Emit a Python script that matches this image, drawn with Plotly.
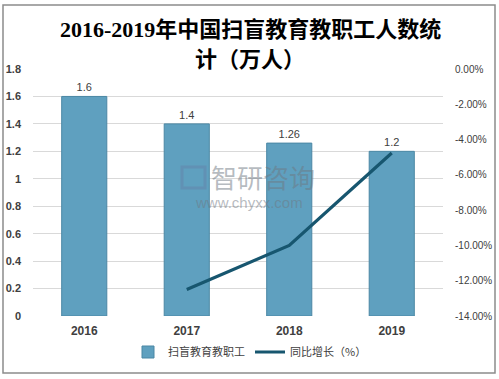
import plotly.graph_objects as go

years = ["2016", "2017", "2018", "2019"]
staff = [1.6, 1.4, 1.26, 1.2]
staff_labels = ["1.6", "1.4", "1.26", "1.2"]
growth_years = ["2017", "2018", "2019"]
growth = [-12.5, -10.0, -4.76]

title_lines = ["2016-2019年中国扫盲教育教职工人数统", "计（万人）"]

left_ticks = [0, 0.2, 0.4, 0.6, 0.8, 1, 1.2, 1.4, 1.6, 1.8]
left_tick_text = ["<b>0</b>", "<b>0.2</b>", "<b>0.4</b>", "<b>0.6</b>", "<b>0.8</b>", "<b>1</b>",
                  "<b>1.2</b>", "<b>1.4</b>", "<b>1.6</b>", "<b>1.8</b>"]
right_ticks = [0, -2, -4, -6, -8, -10, -12, -14]
right_tick_text = ["0.00%", "-2.00%", "-4.00%", "-6.00%", "-8.00%", "-10.00%", "-12.00%", "-14.00%"]

W, H = 499, 379
L, R, T, B = 33, 56, 69, 63
PW, PH = W - L - R, H - T - B

fig = go.Figure()
fig.add_trace(go.Bar(
    x=years, y=staff, name="扫盲教育教职工",
    marker=dict(color="#5fa0bf", line=dict(color="#4a87a4", width=1)),
    width=0.44,
    text=staff_labels, textposition="outside",
    textfont=dict(size=11, color="#404040", family="Liberation Sans, Arial"),
    cliponaxis=False,
))
fig.add_trace(go.Scatter(
    x=growth_years, y=growth, name="同比增长（%）", yaxis="y2",
    mode="lines", line=dict(color="#17566f", width=3.2),
))

fig.update_layout(
    width=W, height=H,
    margin=dict(l=L, r=R, t=T, b=B, autoexpand=False),
    paper_bgcolor="white", plot_bgcolor="white",
    font=dict(family="Liberation Sans, Noto Sans CJK SC", color="#404040"),
    xaxis=dict(
        type="category", showgrid=False, showline=False, ticks="",
        tickfont=dict(size=12, color="#404040", family="Liberation Sans"),
        tickprefix="<b>", ticksuffix="</b>",
        ticklabelstandoff=6, automargin=False,
    ),
    yaxis=dict(
        range=[0, 1.8], tickvals=left_ticks, ticktext=left_tick_text,
        showgrid=True, gridcolor="#d9d9d9", gridwidth=1, zeroline=False,
        showline=False, ticks="", automargin=False, ticklabelstandoff=11,
        tickfont=dict(size=11, color="#404040"),
    ),
    yaxis2=dict(
        range=[-14, 0], tickvals=right_ticks, ticktext=right_tick_text,
        overlaying="y", side="right", showgrid=False, zeroline=False,
        showline=False, ticks="", automargin=False, ticklabelstandoff=11,
        tickfont=dict(size=10, color="#404040"),
    ),
    legend=dict(
        orientation="h", x=(250 - L) / PW, xanchor="center", y=-(352 - 316) / PH, yanchor="middle",
        font=dict(size=11, color="#404040", family="Noto Sans CJK SC"),
        traceorder="normal",
    ),
    showlegend=True,
)

# title as two centred lines
for line, yc in zip(title_lines, [30, 59]):
    fig.add_annotation(xref="paper", yref="paper", x=(250 - L) / PW, y=1 + (T - yc) / PH,
                       text="<b>" + line + "</b>", showarrow=False, xanchor="center", yanchor="middle",
                       font=dict(family="Liberation Serif, Noto Sans CJK SC", size=22, color="#000000"))

# outer border
fig.add_shape(type="rect", xref="paper", yref="paper",
              x0=-(L - 3) / PW, x1=1 + (R - 4) / PW,
              y0=-(B - 6) / PH, y1=1 + (T - 5) / PH,
              line=dict(color="#8c8c8c", width=1.5), fillcolor="rgba(0,0,0,0)", layer="below")

# watermark
fig.add_shape(type="rect", xref="paper", yref="paper",
              x0=(182 - L) / PW, x1=(205 - L) / PW,
              y0=1 - (188 - T) / PH, y1=1 - (167 - T) / PH,
              line=dict(color="rgba(100,130,170,0.5)", width=3), fillcolor="rgba(0,0,0,0)")
fig.add_annotation(xref="paper", yref="paper", x=(263 - L) / PW, y=1 - (176 - T) / PH, text="智研咨询",
                   showarrow=False, font=dict(size=26, color="rgba(110,120,130,0.5)", family="Noto Sans CJK SC"))
fig.add_annotation(xref="paper", yref="paper", x=(249 - L) / PW, y=1 - (202 - T) / PH, text="www.chyxx.com",
                   showarrow=False, font=dict(size=15, color="rgba(110,120,130,0.5)", family="Liberation Sans"))

fig.write_html("out.html", config={"displayModeBar": False},
               post_script="document.body.style.margin='0';document.body.style.overflow='hidden';")
